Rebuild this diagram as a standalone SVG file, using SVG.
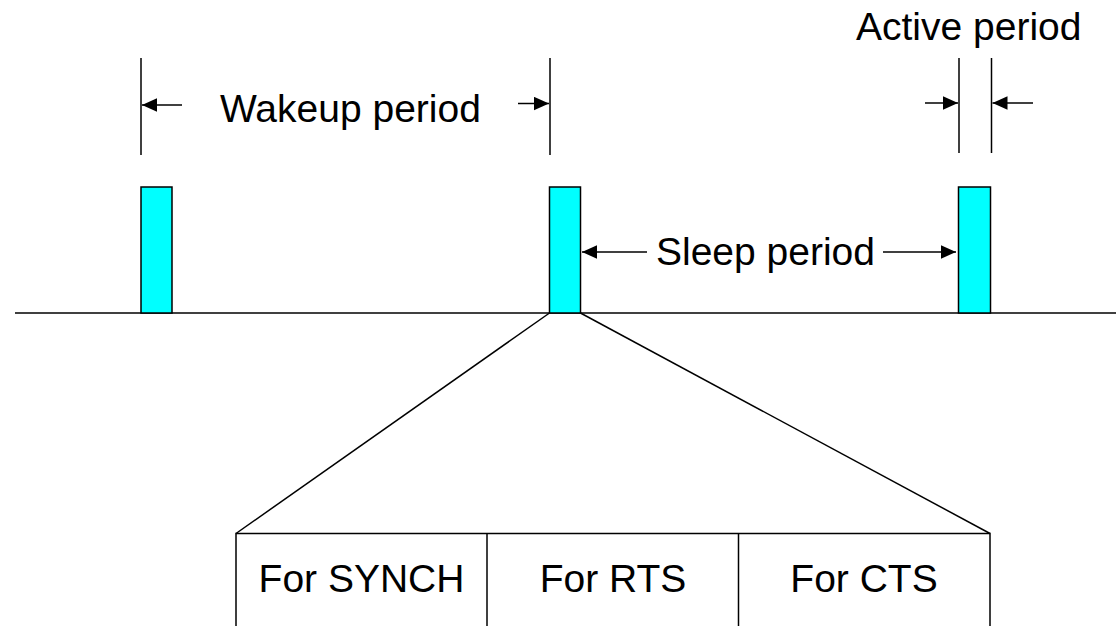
<svg xmlns="http://www.w3.org/2000/svg" width="1120" height="626" viewBox="0 0 1120 626">
<defs>
<marker id="ah" markerUnits="userSpaceOnUse" markerWidth="17" markerHeight="14" refX="15" refY="7" orient="auto">
<path d="M0,0.3 L15,7 L0,13.7 Z" fill="#000"/>
</marker>
</defs>
<style>
.ln{stroke:#000;stroke-width:1.5;fill:none}
.bar{fill:#00FFFF;stroke:#000;stroke-width:1.5}
.t{font-family:"Liberation Sans",Arial,sans-serif;font-size:39px;fill:#000}
.ar{stroke:#000;stroke-width:1.5;fill:none;marker-end:url(#ah)}
</style>
<rect width="1120" height="626" fill="#fff"/>
<g id="timeline">
<line class="ln" x1="15" y1="313" x2="1116" y2="313"/>
</g>
<g id="bar1"><rect class="bar" x="141" y="187" width="31" height="126"/></g>
<g id="bar2"><rect class="bar" x="549.5" y="187" width="31" height="126"/></g>
<g id="bar3"><rect class="bar" x="958.5" y="187" width="32" height="126"/></g>
<g id="wakeup">
<line class="ln" x1="141" y1="58" x2="141" y2="155"/>
<line class="ln" x1="550" y1="58" x2="550" y2="155"/>
<text class="t" x="220" y="122">Wakeup period</text>
</g>
<g id="active">
<line class="ln" x1="959" y1="58" x2="959" y2="153"/>
<line class="ln" x1="991.5" y1="58" x2="991.5" y2="153"/>
<text class="t" x="856" y="40">Active period</text>
</g>
<g id="sleep">
<text class="t" x="656" y="265">Sleep period</text>
</g>
<g id="frame">
<rect x="236" y="533.5" width="754" height="100" fill="none" stroke="#000" stroke-width="1.5"/>
<line class="ln" x1="487" y1="533.5" x2="487" y2="630"/>
<line class="ln" x1="738.5" y1="533.5" x2="738.5" y2="630"/>
<text class="t" x="361.5" y="592" text-anchor="middle">For SYNCH</text>
<text class="t" x="613" y="592" text-anchor="middle">For RTS</text>
<text class="t" x="864" y="592" text-anchor="middle">For CTS</text>
</g>
<g id="connectors">
<line class="ar" x1="182" y1="105" x2="142" y2="105"/>
<line class="ar" x1="518" y1="103.5" x2="549" y2="103.5"/>
<line class="ar" x1="925" y1="103" x2="958" y2="103"/>
<line class="ar" x1="1033" y1="103" x2="992.5" y2="103"/>
<line class="ar" x1="647" y1="252" x2="582" y2="252"/>
<line class="ar" x1="883" y1="252" x2="956" y2="252"/>
<line class="ln" x1="549.5" y1="313" x2="236" y2="533.5"/>
<line class="ln" x1="580.5" y1="313" x2="990" y2="533.5"/>
</g>
</svg>
